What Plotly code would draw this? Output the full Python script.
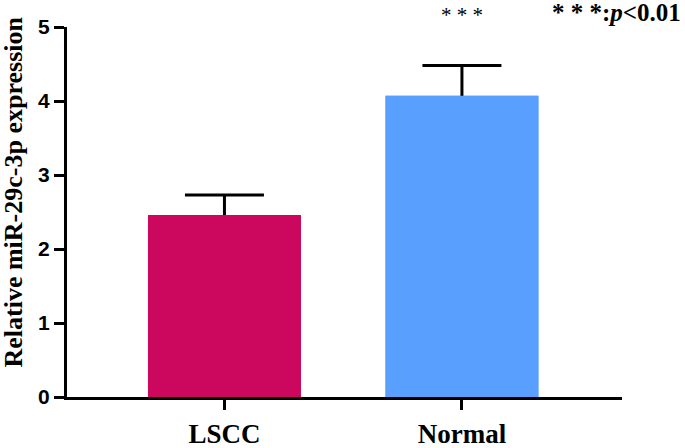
import plotly.graph_objects as go

categories = ["LSCC", "Normal"]
means = [2.46, 4.07]
sems = [0.27, 0.41]
colors = ["#CB085D", "#589FFE"]
y_ticks = [0, 1, 2, 3, 4, 5]

x_pos = list(range(len(categories)))

fig = go.Figure()
# bars with upper error bars; the lower end of each error bar is hidden
# under an identical overlaid bar trace drawn afterwards
fig.add_trace(go.Bar(
    x=x_pos, y=means, width=0.644,
    marker=dict(color=colors, line=dict(width=0)),
    error_y=dict(type="data", symmetric=False, array=sems, arrayminus=[0.2] * len(sems),
                 color="black", thickness=3, width=39.5),
    showlegend=False,
))
fig.add_trace(go.Bar(
    x=x_pos, y=means, width=0.644,
    marker=dict(color=colors, line=dict(width=0)),
    showlegend=False, hoverinfo="skip",
))

serif = "Liberation Serif"
W, H = 685, 448
L, R, T, B = 67, 63, 27, 51
pw, ph = W - L - R, H - T - B
fig.update_layout(
    width=W, height=H,
    margin=dict(l=L, r=R, t=T, b=B, autoexpand=False),
    plot_bgcolor="white", paper_bgcolor="white",
    barmode="overlay",
    xaxis=dict(range=[-0.663, 1.674], tickvals=x_pos, ticktext=categories,
               showline=True, linecolor="black", linewidth=3,
               ticks="outside", ticklen=10, tickwidth=3, tickcolor="black",
               showgrid=False, zeroline=False, ticklabelstandoff=1,
               tickfont=dict(family=serif, size=27, color="black", weight="bold")),
    yaxis=dict(range=[0, 5], tickvals=y_ticks,
               showline=True, linecolor="black", linewidth=3,
               ticks="outside", ticklen=10, tickwidth=3, tickcolor="black",
               showgrid=False, zeroline=False,
               tickfont=dict(family="Liberation Sans", size=21, color="black", weight="bold")),
    annotations=[
        dict(text="Relative miR-29c-3p expression", textangle=-90,
             xref="paper", yref="paper", x=(13 - L) / pw, y=(T + ph - 192.5) / ph,
             xanchor="center", yanchor="middle", showarrow=False,
             font=dict(family=serif, size=26, color="black", weight="bold")),
        dict(text="* * *", xref="x", yref="paper", x=1, y=(T + ph - 15) / ph,
             xanchor="center", yanchor="middle", showarrow=False,
             font=dict(family=serif, size=21, color="black")),
        dict(text="* * *:<i>p</i><0.01", xref="paper", yref="paper",
             x=(683 - L) / pw, y=(T + ph - 13) / ph,
             xanchor="right", yanchor="middle", showarrow=False,
             font=dict(family=serif, size=25, color="black", weight="bold")),
    ],
)

fig.write_html("out.html", config={"displayModeBar": False},
               post_script="document.body.style.margin='0';")
